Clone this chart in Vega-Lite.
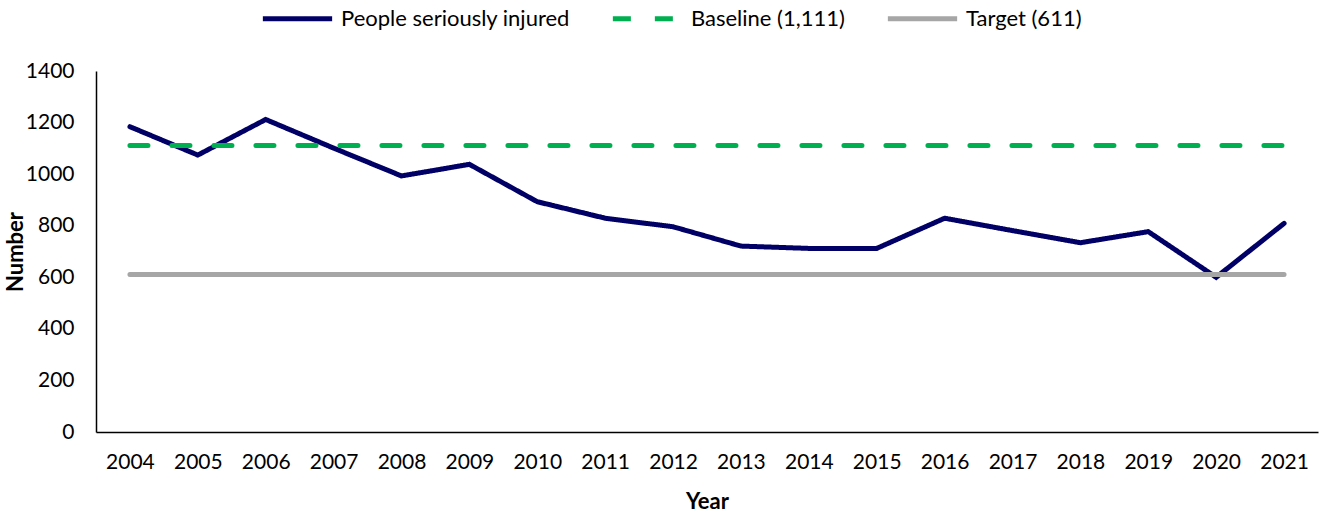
{
  "$schema": "https://vega.github.io/schema/vega-lite/v6.json",
  "autosize": "none",
  "width": 1222,
  "height": 361,
  "padding": {"left": 96, "top": 71, "right": 4, "bottom": 81},
  "background": "white",
  "config": {
    "font": "Lato",
    "view": {"stroke": null},
    "axis": {"labelFont": "Lato", "titleFont": "Lato", "labelColor": "#000", "titleColor": "#000", "domainColor": "#000", "domainWidth": 1.5, "ticks": false, "grid": false, "labelFontSize": 21, "titleFontSize": 22, "titleFontWeight": "bold"},
    "legend": {"labelFont": "Lato", "labelFontSize": 22, "labelColor": "#000"}
  },
  "data": {"values": [
    {"year": "2004", "series": "People seriously injured", "value": 1184},
    {"year": "2005", "series": "People seriously injured", "value": 1074},
    {"year": "2006", "series": "People seriously injured", "value": 1212},
    {"year": "2007", "series": "People seriously injured", "value": 1101},
    {"year": "2008", "series": "People seriously injured", "value": 993},
    {"year": "2009", "series": "People seriously injured", "value": 1038},
    {"year": "2010", "series": "People seriously injured", "value": 893},
    {"year": "2011", "series": "People seriously injured", "value": 829},
    {"year": "2012", "series": "People seriously injured", "value": 796},
    {"year": "2013", "series": "People seriously injured", "value": 721},
    {"year": "2014", "series": "People seriously injured", "value": 712},
    {"year": "2015", "series": "People seriously injured", "value": 712},
    {"year": "2016", "series": "People seriously injured", "value": 829},
    {"year": "2017", "series": "People seriously injured", "value": 781},
    {"year": "2018", "series": "People seriously injured", "value": 734},
    {"year": "2019", "series": "People seriously injured", "value": 777},
    {"year": "2020", "series": "People seriously injured", "value": 600},
    {"year": "2021", "series": "People seriously injured", "value": 809},
    {"year": "2004", "series": "Baseline (1,111)", "value": 1111},
    {"year": "2005", "series": "Baseline (1,111)", "value": 1111},
    {"year": "2006", "series": "Baseline (1,111)", "value": 1111},
    {"year": "2007", "series": "Baseline (1,111)", "value": 1111},
    {"year": "2008", "series": "Baseline (1,111)", "value": 1111},
    {"year": "2009", "series": "Baseline (1,111)", "value": 1111},
    {"year": "2010", "series": "Baseline (1,111)", "value": 1111},
    {"year": "2011", "series": "Baseline (1,111)", "value": 1111},
    {"year": "2012", "series": "Baseline (1,111)", "value": 1111},
    {"year": "2013", "series": "Baseline (1,111)", "value": 1111},
    {"year": "2014", "series": "Baseline (1,111)", "value": 1111},
    {"year": "2015", "series": "Baseline (1,111)", "value": 1111},
    {"year": "2016", "series": "Baseline (1,111)", "value": 1111},
    {"year": "2017", "series": "Baseline (1,111)", "value": 1111},
    {"year": "2018", "series": "Baseline (1,111)", "value": 1111},
    {"year": "2019", "series": "Baseline (1,111)", "value": 1111},
    {"year": "2020", "series": "Baseline (1,111)", "value": 1111},
    {"year": "2021", "series": "Baseline (1,111)", "value": 1111},
    {"year": "2004", "series": "Target (611)", "value": 611},
    {"year": "2005", "series": "Target (611)", "value": 611},
    {"year": "2006", "series": "Target (611)", "value": 611},
    {"year": "2007", "series": "Target (611)", "value": 611},
    {"year": "2008", "series": "Target (611)", "value": 611},
    {"year": "2009", "series": "Target (611)", "value": 611},
    {"year": "2010", "series": "Target (611)", "value": 611},
    {"year": "2011", "series": "Target (611)", "value": 611},
    {"year": "2012", "series": "Target (611)", "value": 611},
    {"year": "2013", "series": "Target (611)", "value": 611},
    {"year": "2014", "series": "Target (611)", "value": 611},
    {"year": "2015", "series": "Target (611)", "value": 611},
    {"year": "2016", "series": "Target (611)", "value": 611},
    {"year": "2017", "series": "Target (611)", "value": 611},
    {"year": "2018", "series": "Target (611)", "value": 611},
    {"year": "2019", "series": "Target (611)", "value": 611},
    {"year": "2020", "series": "Target (611)", "value": 611},
    {"year": "2021", "series": "Target (611)", "value": 611}
  ]},
  "mark": {"type": "line", "strokeWidth": 5, "strokeCap": "round", "strokeJoin": "miter"},
  "encoding": {
    "x": {"field": "year", "type": "ordinal", "scale": {"type": "point", "padding": 0.5}, "axis": {"title": "Year", "labelAngle": 0, "labelPadding": 19, "titlePadding": 19}},
    "y": {"field": "value", "type": "quantitative", "scale": {"domain": [0, 1400]}, "axis": {"title": "Number", "format": "d", "values": [0, 200, 400, 600, 800, 1000, 1200, 1400], "labelPadding": 22, "titlePadding": -2}},
    "color": {"field": "series", "type": "nominal",
      "scale": {"domain": ["People seriously injured", "Baseline (1,111)", "Target (611)"], "range": ["#000066", "#00B050", "#A6A6A6"]},
      "legend": {"title": null, "orient": "none", "legendX": 164, "legendY": -90, "offset": 0, "direction": "horizontal", "symbolType": "stroke", "symbolSize": 4800, "symbolStrokeWidth": 5, "columnPadding": 32, "labelOffset": 6, "labelLimit": 400}},
    "strokeDash": {"field": "series", "type": "nominal",
      "scale": {"domain": ["People seriously injured", "Baseline (1,111)", "Target (611)"], "range": [[1, 0], [18, 24], [1, 0]]},
      "legend": null},
    "order": {"field": "series", "sort": "descending"}
  }
}
